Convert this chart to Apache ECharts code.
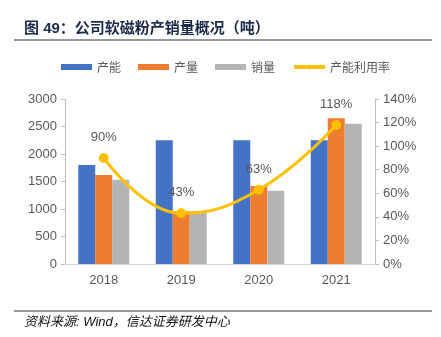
<!DOCTYPE html>
<html><head><meta charset="utf-8">
<script src="https://cdn.jsdelivr.net/npm/echarts@6/dist/echarts.min.js"></script>
<style>html,body{margin:0;padding:0;background:#fff}#c{width:441px;height:337px}</style>
</head><body><div id="c"></div>
<script>
var categories = ['2018', '2019', '2020', '2021'];
var capacity = [1800, 2250, 2250, 2250];
var production = [1620, 960, 1420, 2650];
var sales = [1530, 960, 1330, 2550];
var utilization = [90, 43, 63, 118];
var leftTicks = {min: 0, max: 3000, interval: 500};
var rightTicks = {min: 0, max: 140, interval: 20};

var FONT = '"Liberation Sans", "Noto Sans CJK SC", sans-serif';
var chart = echarts.init(document.getElementById('c'), null, {renderer: 'canvas'});
chart.setOption({
  animation: false,
  textStyle: {fontFamily: FONT},
  graphic: [
    {type: 'text', left: 24, top: 21, style: {text: '图 49：公司软磁粉产销量概况（吨）', font: 'bold 15px "Liberation Sans", "Noto Sans CJK SC", sans-serif', fill: '#1e2a4a'}},
    {type: 'line', shape: {x1: 14, y1: 40, x2: 432, y2: 40}, style: {stroke: '#333', lineWidth: 1}},
    {type: 'line', shape: {x1: 14, y1: 311, x2: 432, y2: 311}, style: {stroke: '#333', lineWidth: 1}},
    {type: 'text', left: 24, top: 316, style: {text: '资料来源: Wind，信达证券研发中心', font: 'italic 13px "Liberation Sans", "Noto Sans CJK SC", sans-serif', fill: '#111'}}
  ],
  legend: {
    top: 61, left: 61, padding: 0, itemWidth: 31, itemHeight: 6, itemGap: 17,
    textStyle: {fontSize: 12, color: '#595959', fontFamily: '"Noto Sans CJK SC", sans-serif'},
    data: [
      {name: '产能', icon: 'rect'},
      {name: '产量', icon: 'rect'},
      {name: '销量', icon: 'rect'},
      {name: '产能利用率', lineStyle: {width: 4}}
    ]
  },
  grid: {left: 65, right: 66, top: 99, bottom: 73},
  xAxis: {
    type: 'category', data: categories,
    axisLine: {lineStyle: {color: '#d9d9d9'}},
    axisTick: {show: false},
    axisLabel: {color: '#595959', fontSize: 13, margin: 10}
  },
  yAxis: [
    {type: 'value', min: leftTicks.min, max: leftTicks.max, interval: leftTicks.interval,
     axisLine: {show: true, lineStyle: {color: '#bfbfbf'}},
     axisTick: {show: true, length: 4, lineStyle: {color: '#bfbfbf'}},
     splitLine: {show: false},
     axisLabel: {color: '#595959', fontSize: 13, margin: 8, formatter: function (v) { return String(v); }}},
    {type: 'value', min: rightTicks.min, max: rightTicks.max, interval: rightTicks.interval,
     axisLine: {show: true, lineStyle: {color: '#bfbfbf'}},
     axisTick: {show: true, length: 4, lineStyle: {color: '#bfbfbf'}},
     splitLine: {show: false},
     axisLabel: {color: '#595959', fontSize: 13, margin: 8, formatter: '{value}%'}}
  ],
  series: [
    {name: '产能', type: 'bar', data: capacity, barWidth: 17, barGap: '0%', itemStyle: {color: '#4472C4'}},
    {name: '产量', type: 'bar', data: production, barWidth: 17, barGap: '0%', itemStyle: {color: '#ED7D31'}},
    {name: '销量', type: 'bar', data: sales, barWidth: 17, barGap: '0%', itemStyle: {color: '#B4B4B4'}},
    {name: '产能利用率', type: 'line', yAxisIndex: 1, data: utilization, smooth: 0.45,
     symbol: 'circle', symbolSize: 10,
     lineStyle: {color: '#FFC000', width: 3}, itemStyle: {color: '#FFC000'},
     label: {show: true, position: 'top', distance: 9, formatter: '{c}%', color: '#595959', fontSize: 13}}
  ]
});
</script></body></html>
